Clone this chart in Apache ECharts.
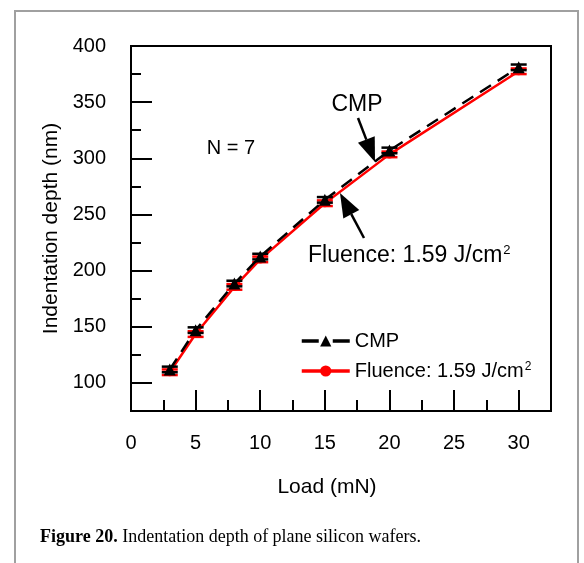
<!DOCTYPE html>
<html>
<head>
<meta charset="utf-8">
<script src="https://cdn.jsdelivr.net/npm/echarts@6/dist/echarts.min.js"></script>
<style>
html,body{margin:0;padding:0;background:#fff;}
#chart{width:584px;height:563px;}
</style>
</head>
<body>
<div id="chart"></div>
<script>
const loads = [3, 5, 8, 10, 15, 20, 30];
const cmpDepth = [112, 147, 188.5, 212.5, 263, 307, 381];
const cmpErr = [2.5, 2.5, 2.5, 2.5, 2.5, 2.5, 2.5];
const fluenceDepth = [109.5, 143.5, 185.5, 210, 260, 303.5, 377.5];
const fluenceErr = [2.5, 2.5, 2.5, 2.5, 2.5, 2.5, 2.5];
const xMajorTicks = [0, 5, 10, 15, 20, 25, 30];
const xMinorTicks = [2.5, 7.5, 12.5, 17.5, 22.5, 27.5];
const yMajorTicks = [100, 150, 200, 250, 300, 350, 400];
const yMinorTicks = [125, 175, 225, 275, 325, 375];
const cmpName = 'CMP';
const fluName = 'Fluence: 1.59 J/cm²';

const FONT = 'Liberation Sans, Arial, sans-serif';
const chart = echarts.init(document.getElementById('chart'), null, {renderer: 'canvas'});

function errRender(color) {
  return function (params, api) {
    const x = api.value(0), y = api.value(1), e = api.value(2);
    const top = api.coord([x, y + e]);
    const bot = api.coord([x, y - e]);
    const w = 8;
    const st = {stroke: color, lineWidth: 2.5};
    return {
      type: 'group',
      children: [
        {type: 'line', shape: {x1: top[0], y1: top[1], x2: bot[0], y2: bot[1]}, style: st},
        {type: 'line', shape: {x1: top[0] - w, y1: top[1], x2: top[0] + w, y2: top[1]}, style: st},
        {type: 'line', shape: {x1: bot[0] - w, y1: bot[1], x2: bot[0] + w, y2: bot[1]}, style: st}
      ]
    };
  };
}

const axisLineStyle = {color: '#000', width: 2};

const option = {
  animation: false,
  backgroundColor: '#fff',
  grid: {left: 131, top: 46, right: 33, bottom: 152, show: true, borderColor: '#000', borderWidth: 2, backgroundColor: 'transparent'},
  xAxis: [
    {
      type: 'value', min: 0, max: 32.5,
      axisLine: {show: true, lineStyle: axisLineStyle},
      axisTick: {show: true, inside: true, length: 21, lineStyle: {color: '#000', width: 2}, customValues: xMajorTicks},
      axisLabel: {show: true, customValues: xMajorTicks, color: '#000', fontFamily: FONT, fontSize: 20, margin: 22},
      splitLine: {show: false},
      name: 'Load (mN)', nameLocation: 'middle', nameGap: 66,
      nameTextStyle: {color: '#000', fontFamily: FONT, fontSize: 21, padding: [0, 28, 0, 0]}
    },
    {
      type: 'value', min: 0, max: 32.5, position: 'bottom',
      axisLine: {show: false},
      axisTick: {show: true, inside: true, length: 11, lineStyle: {color: '#000', width: 2}, customValues: xMinorTicks},
      axisLabel: {show: false},
      splitLine: {show: false}
    }
  ],
  yAxis: [
    {
      type: 'value', min: 75, max: 400,
      axisLine: {show: true, lineStyle: axisLineStyle},
      axisTick: {show: true, inside: true, length: 21, lineStyle: {color: '#000', width: 2}, customValues: yMajorTicks},
      axisLabel: {show: true, customValues: yMajorTicks, color: '#000', fontFamily: FONT, fontSize: 20, margin: 25},
      splitLine: {show: false},
      name: 'Indentation depth (nm)', nameLocation: 'middle', nameGap: 68,
      nameTextStyle: {color: '#000', fontFamily: FONT, fontSize: 21}
    },
    {
      type: 'value', min: 75, max: 400, position: 'left',
      axisLine: {show: false},
      axisTick: {show: true, inside: true, length: 10, lineStyle: {color: '#000', width: 2}, customValues: yMinorTicks},
      axisLabel: {show: false},
      splitLine: {show: false}
    }
  ],
  legend: {
    orient: 'vertical', left: 300, top: 331, padding: 0,
    itemWidth: 48, itemHeight: 14, itemGap: 10,
    data: [
      {name: cmpName, lineStyle: {width: 3.5, type: [17, 14]}},
      {name: fluName, lineStyle: {width: 3.5}}
    ],
    formatter: function (name) {
      return name === fluName ? 'Fluence: 1.59 J/cm{sup|2}' : name;
    },
    textStyle: {
      color: '#000', fontFamily: FONT, fontSize: 20, lineHeight: 20,
      rich: {sup: {fontSize: 12, fontFamily: FONT, color: '#000', verticalAlign: 'top', lineHeight: 12, padding: [0, 0, 10, 1]}}
    }
  },
  series: [
    {
      name: fluName, type: 'line', xAxisIndex: 0, yAxisIndex: 0, z: 2,
      data: loads.map((x, i) => [x, fluenceDepth[i]]),
      symbol: 'circle', symbolSize: 8,
      lineStyle: {color: '#ff0000', width: 2.5},
      itemStyle: {color: '#ff0000'}
    },
    {
      name: 'fluErr', type: 'custom', xAxisIndex: 0, yAxisIndex: 0, z: 3,
      data: loads.map((x, i) => [x, fluenceDepth[i], fluenceErr[i]]),
      renderItem: errRender('#ff0000')
    },
    {
      name: cmpName, type: 'line', xAxisIndex: 0, yAxisIndex: 0, z: 4,
      data: loads.map((x, i) => [x, cmpDepth[i]]),
      symbol: 'triangle', symbolSize: 12,
      lineStyle: {color: '#000', width: 2.5, type: [13, 8]},
      itemStyle: {color: '#000'}
    },
    {
      name: 'cmpErr', type: 'custom', xAxisIndex: 0, yAxisIndex: 0, z: 5,
      data: loads.map((x, i) => [x, cmpDepth[i], cmpErr[i]]),
      renderItem: errRender('#000')
    }
  ]
};
chart.setOption(option);

function arrow(x1, y1, x2, y2) {
  const ang = Math.atan2(y2 - y1, x2 - x1);
  const L = 24, W = 9;
  const bx = x2 - L * Math.cos(ang), by = y2 - L * Math.sin(ang);
  const px = -Math.sin(ang) * W, py = Math.cos(ang) * W;
  return [
    {type: 'line', shape: {x1: x1, y1: y1, x2: bx, y2: by}, style: {stroke: '#000', lineWidth: 2.5}},
    {type: 'polygon', shape: {points: [[x2, y2], [bx + px, by + py], [bx - px, by - py]]}, style: {fill: '#000'}}
  ];
}

chart.setOption({
  graphic: [
    {type: 'rect', shape: {x: 15, y: 11, width: 563, height: 620}, style: {fill: 'none', stroke: '#a0a0a0', lineWidth: 2}, z: 0, silent: true},
    {type: 'text', x: 231, y: 148, style: {text: 'N = 7', font: '20px ' + FONT, fill: '#000', align: 'center', verticalAlign: 'middle'}},
    {type: 'text', x: 357, y: 105, style: {text: 'CMP', font: '23px ' + FONT, fill: '#000', align: 'center', verticalAlign: 'middle'}},
    {type: 'text', x: 308, y: 256, style: {
      text: 'Fluence: 1.59 J/cm{sup|2}', font: '23px ' + FONT, fill: '#000', align: 'left', verticalAlign: 'middle',
      rich: {sup: {fontSize: 13, fontFamily: FONT, fill: '#000', padding: [0, 0, 12, 1]}}
    }},
    ...arrow(358, 118, 375, 162),
    ...arrow(364, 238, 340, 193),
    {type: 'text', x: 40, y: 537, style: {
      text: '{b|Figure 20.} Indentation depth of plane silicon wafers.',
      font: '18px Liberation Serif, serif', fill: '#000', verticalAlign: 'middle',
      rich: {b: {fontWeight: 'bold', fontSize: 18, fontFamily: 'Liberation Serif, serif', fill: '#000'}}
    }}
  ]
});
</script>
</body>
</html>
